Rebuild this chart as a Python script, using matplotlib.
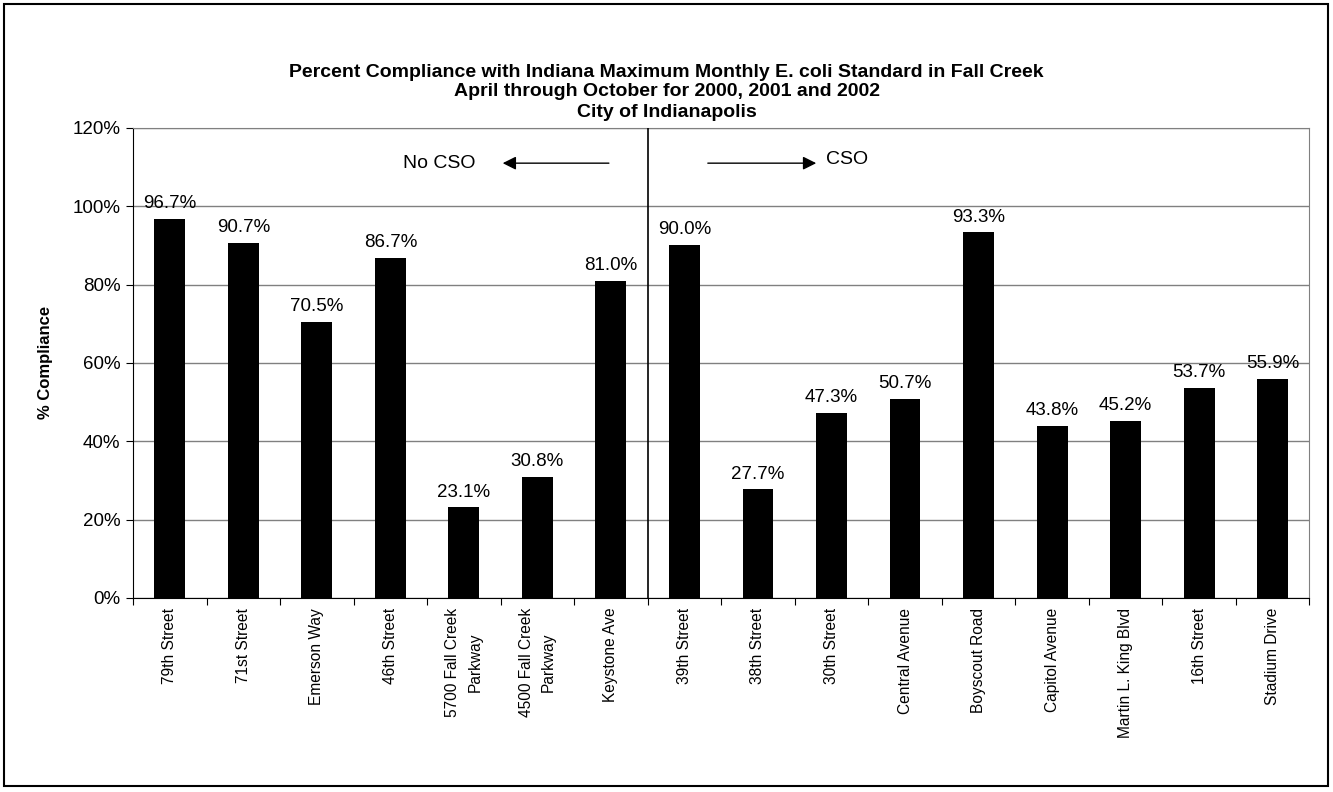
import matplotlib
matplotlib.use("Agg")
import matplotlib.pyplot as plt
from matplotlib.patches import Rectangle

plt.rcParams["font.family"] = ["Liberation Sans", "DejaVu Sans"]

sites = ["79th Street", "71st Street", "Emerson Way", "46th Street",
         "5700 Fall Creek\nParkway", "4500 Fall Creek\nParkway", "Keystone Ave",
         "39th Street", "38th Street", "30th Street", "Central Avenue",
         "Boyscout Road", "Capitol Avenue", "Martin L. King Blvd",
         "16th Street", "Stadium Drive"]
compliance = [96.7, 90.7, 70.5, 86.7, 23.1, 30.8, 81.0,
              90.0, 27.7, 47.3, 50.7, 93.3, 43.8, 45.2, 53.7, 55.9]
y_ticks = [0, 20, 40, 60, 80, 100, 120]
n_no_cso = 7

fig = plt.figure(figsize=(13.33, 7.92), dpi=100)
ax = fig.add_axes([0.0998, 0.245, 0.8825, 0.5935])

x = range(len(sites))
ax.bar(x, [v / 100 for v in compliance], width=0.42, color="black", zorder=3)
for i, v in enumerate(compliance):
    ax.annotate(f"{v:.1f}%", (i, v / 100), xytext=(0, 5), textcoords="offset points",
                ha="center", va="bottom", fontsize=13.5)

ax.set_xlim(-0.5, len(sites) - 0.5)
ax.set_ylim(0, 1.2)
ax.set_yticks([t / 100 for t in y_ticks])
ax.set_yticklabels([f"{t}%" for t in y_ticks], fontsize=13.5)
ax.yaxis.grid(True, color="#808080", lw=1, zorder=0)
ax.tick_params(axis="y", length=5, direction="out", pad=4)

# ticks at category boundaries, labels at centres
ax.set_xticks([i - 0.5 for i in range(len(sites) + 1)])
ax.set_xticklabels([])
ax.tick_params(axis="x", length=5, direction="out")
for i, s in enumerate(sites):
    ax.text(i, -0.025, s, rotation=90, ha="center", va="top", fontsize=11.2,
            multialignment="center", linespacing=1.6, transform=ax.transData)

for side in ("top", "right"):
    ax.spines[side].set_color("#808080")
for side in ("left", "bottom"):
    ax.spines[side].set_color("black")

# CSO / No CSO divider
ax.axvline(n_no_cso - 0.5, color="black", lw=1.2, zorder=4)
ax.annotate("", xy=(4.49, 1.11), xytext=(6.01, 1.11),
            arrowprops=dict(arrowstyle="-|>", color="black", lw=1, mutation_scale=20))
ax.text(3.66, 1.11, "No CSO", ha="center", va="center", fontsize=14)
ax.annotate("", xy=(8.83, 1.11), xytext=(7.28, 1.11),
            arrowprops=dict(arrowstyle="-|>", color="black", lw=1, mutation_scale=20))
ax.text(8.92, 1.12, "CSO", ha="left", va="center", fontsize=14)

ax.set_ylabel("% Compliance", fontsize=12, fontweight="bold", labelpad=14)

title_lines = ["Percent Compliance with Indiana Maximum Monthly E. coli Standard in Fall Creek",
               "April through October for 2000, 2001 and 2002",
               "City of Indianapolis"]
for yy, line in zip([0.908, 0.884, 0.858], title_lines):
    fig.text(0.5, yy, line, ha="center", va="center", fontsize=14, fontweight="bold")

fig.patches.append(Rectangle((4 / 1333, 6 / 792), 1324 / 1333, 782 / 792,
                             transform=fig.transFigure, fill=False, ec="black", lw=1.5))

fig.savefig("out.png", dpi=100)
